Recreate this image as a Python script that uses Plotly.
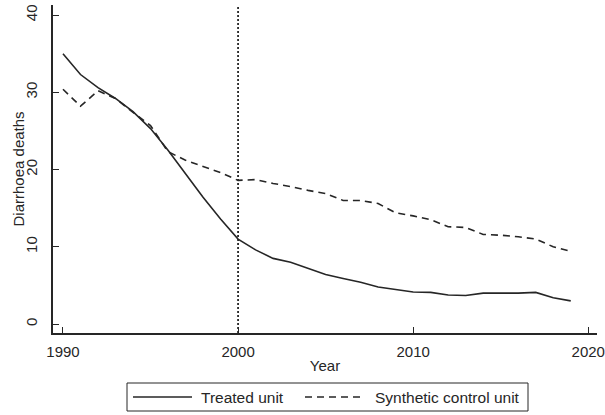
import plotly.graph_objects as go

# Annual diarrhoea deaths, treated unit vs. its synthetic control
years = list(range(1990, 2020))
treated_unit = [35.0, 32.3, 30.6, 29.2, 27.5, 25.3, 22.5, 19.4, 16.4, 13.6,
                11.0, 9.6, 8.5, 8.0, 7.2, 6.4, 5.9, 5.4, 4.8, 4.45,
                4.15, 4.1, 3.75, 3.7, 4.0, 4.0, 4.0, 4.1, 3.4, 3.0]
synthetic_control = [30.4, 28.2, 30.2, 29.2, 27.4, 25.7, 22.3, 21.2, 20.4, 19.6,
                     18.6, 18.7, 18.2, 17.8, 17.3, 16.9, 16.0, 16.0, 15.6, 14.4,
                     14.0, 13.5, 12.6, 12.5, 11.6, 11.5, 11.3, 11.0, 10.0, 9.4]
treatment_year = 2000

x_ticks = [1990, 2000, 2010, 2020]
y_ticks = [0, 10, 20, 30, 40]
series_names = ["Treated unit", "Synthetic control unit"]
series_dash = ["solid", "7px,5px"]

ink = "#262626"
font_family = "Arial, Liberation Sans, sans-serif"
fsize = 15
W, H = 605, 415
M_L, M_R, M_T, M_B = 53, 8, 5, 82
plot_w = W - M_L - M_R
plot_h = H - M_T - M_B


def px_to_paper_x(px):
    return (px - M_L) / plot_w


def px_to_paper_y(py):
    return (H - M_B - py) / plot_h


fig = go.Figure()
for name, values, dash in zip(series_names, [treated_unit, synthetic_control], series_dash):
    fig.add_trace(go.Scatter(
        x=years, y=values, mode="lines", name=name, showlegend=False,
        line=dict(color=ink, width=1.6, dash=dash),
    ))

# Intervention marker
fig.add_shape(type="line", xref="x", yref="paper",
              x0=treatment_year, x1=treatment_year, y0=0, y1=1,
              line=dict(color=ink, width=1.8, dash="2px,2px"))

# Boxed legend below the axes
legend_mid = px_to_paper_y(397)
fig.add_shape(type="rect", xref="paper", yref="paper",
              x0=px_to_paper_x(127), x1=px_to_paper_x(528),
              y0=px_to_paper_y(411), y1=px_to_paper_y(383),
              line=dict(color=ink, width=1), fillcolor="white", layer="above")
sample_spans = [(133, 192, 199), (305, 363, 373)]
for (sx0, sx1, tx), name, dash in zip(sample_spans, series_names, series_dash):
    fig.add_shape(type="line", xref="paper", yref="paper",
                  x0=px_to_paper_x(sx0), x1=px_to_paper_x(sx1),
                  y0=legend_mid, y1=legend_mid,
                  line=dict(color=ink, width=1.6, dash=dash), layer="above")
    fig.add_annotation(xref="paper", yref="paper", x=px_to_paper_x(tx), y=legend_mid,
                       text=name, showarrow=False, xanchor="left", yanchor="middle",
                       font=dict(size=fsize + 0.5, color=ink, family=font_family))

# Y-axis title
fig.add_annotation(xref="paper", yref="paper", x=0, y=0.5, xshift=-(M_L - 17.5),
                   text="Diarrhoea deaths", textangle=-90, showarrow=False,
                   xanchor="center", yanchor="middle",
                   font=dict(size=fsize, color=ink, family=font_family))

axis_common = dict(
    showline=True, linecolor=ink, linewidth=1.5,
    ticks="inside", ticklen=6, tickwidth=1.2, tickcolor=ink,
    showgrid=False, zeroline=False, mirror=False,
    tickfont=dict(size=fsize, color=ink, family=font_family),
)

fig.update_layout(
    width=W, height=H,
    margin=dict(l=M_L, r=M_R, t=M_T, b=M_B, autoexpand=False),
    paper_bgcolor="white", plot_bgcolor="white",
    font=dict(family=font_family, color=ink, size=fsize),
    xaxis=dict(
        range=[1989.43, 2020.5], tickvals=x_ticks,
        title=dict(text="Year", standoff=2, font=dict(size=fsize)),
        ticklabelstandoff=4,
        **axis_common,
    ),
    yaxis=dict(
        range=[-1.16, 41.3], tickvals=y_ticks, tickangle=-90,
        ticklabelstandoff=8,
        **axis_common,
    ),
    showlegend=False,
)

fig.write_html("out.html")
